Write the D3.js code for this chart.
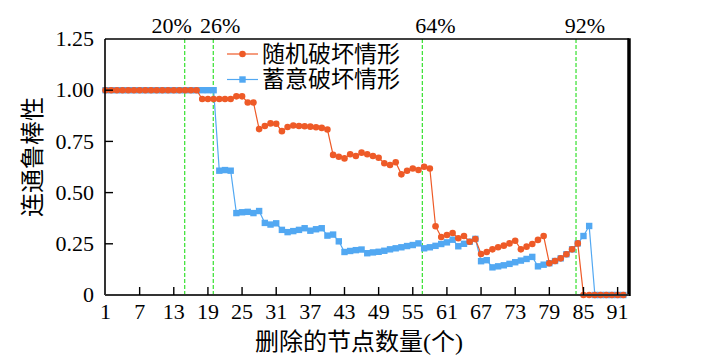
<!DOCTYPE html>
<html><head><meta charset="utf-8">
<script src="https://cdn.jsdelivr.net/npm/d3@7"></script>
<style>
html,body{margin:0;padding:0;background:#fff;}
svg{display:block;}
.serif{font-family:"Liberation Serif","Times New Roman",serif;}
.cjk{font-family:"Liberation Serif","Noto Sans CJK SC",serif;}
</style></head>
<body>
<svg id="chart" width="705" height="364"></svg>
<script>
// ---------- data ----------
const randomSeries = [
  1,1,1,1,1,1,1,1,1,1,1,1,1,1,1,1,1,
  0.957,0.957,0.957,0.957,0.957,0.957,
  0.97,0.97,0.94,0.94,
  0.81,0.825,0.838,0.836,0.80,0.82,0.828,0.825,0.824,0.822,0.819,0.816,0.808,
  0.684,0.675,0.667,0.687,0.679,0.695,0.687,0.679,0.67,0.643,0.635,0.648,0.589,0.607,0.618,0.61,0.626,0.618,
  0.336,0.283,0.293,0.303,0.277,0.288,0.26,0.273,
  0.2,0.21,0.223,0.233,0.241,0.252,0.265,0.223,0.236,0.249,0.269,0.288,
  0.155,0.166,0.179,0.199,0.223,0.252,
  0,0,0,0,0,0,0,0
];
const targetedSeries = [
  1,1,1,1,1,1,1,1,1,1,1,1,1,1,1,1,1,1,1,1,
  0.607,0.61,0.607,
  0.40,0.404,0.406,0.40,0.41,
  0.352,0.344,0.35,
  0.318,0.307,0.312,0.318,0.326,0.314,0.321,0.326,
  0.29,0.295,0.262,
  0.21,0.215,0.219,0.222,
  0.204,0.208,0.211,0.216,0.223,0.228,0.233,0.239,0.244,0.252,
  0.228,0.233,0.24,0.249,0.257,0.27,
  0.238,0.25,0.26,0.274,
  0.165,0.17,
  0.135,0.14,0.145,0.152,0.16,0.168,0.176,0.186,
  0.14,0.148,0.155,0.166,0.179,0.199,0.223,
  0.252,0.288,0.337,
  0,0,0,0,0,0
];
const seriesNames = ["随机破坏情形","蓄意破坏情形"];
const xTickValues = [1,7,13,19,25,31,37,43,49,55,61,67,73,79,85,91];
const yTickValues = [0,0.25,0.5,0.75,1.0,1.25];
const yTickLabels = ["0","0.25","0.50","0.75","1.00","1.25"];
const cutPositions = [14.92,19.94,56.68,83.69];
const cutLabels = ["20%","26%","64%","92%"];
const xTitle = "删除的节点数量(个)";
const yTitle = "连通鲁棒性";

// ---------- layout ----------
const pL = 105, pR = 629, pT = 39, pB = 295;
const orange = "#EE5A27", blue = "#52A8F2", green = "#35E02E";

const svg = d3.select("#chart");
const x = d3.scaleLinear().domain([1, 93]).range([pL + 0.5, pR]);
const y = d3.scaleLinear().domain([0, 1.25]).range([pB, pT]);

const idx = randomSeries.map((d, i) => i + 1);

// cut lines
svg.append("g").selectAll("line").data(cutPositions).join("line")
  .attr("x1", d => x(d)).attr("x2", d => x(d))
  .attr("y1", pT).attr("y2", pB)
  .attr("stroke", green).attr("stroke-width", 1.2)
  .attr("stroke-dasharray", "4,2");

const labelShift = [-13, 7, 13, 9];
svg.append("g").selectAll("text").data(cutLabels).join("text")
  .attr("class", "serif")
  .attr("x", (d, i) => x(cutPositions[i]) + labelShift[i])
  .attr("y", 32.5)
  .attr("text-anchor", "middle")
  .attr("font-size", 22)
  .attr("fill", "#000")
  .text(d => d);

// series
function drawSeries(vals, color, shape) {
  const pts = vals.map((v, i) => [idx[i], v]);
  const line = d3.line().x(d => x(d[0])).y(d => y(d[1]));
  const g = svg.append("g");
  g.append("path").datum(pts).attr("d", line)
    .attr("fill", "none").attr("stroke", color).attr("stroke-width", 1.2);
  if (shape === "circle") {
    g.selectAll("circle").data(pts).join("circle")
      .attr("cx", d => x(d[0])).attr("cy", d => y(d[1]))
      .attr("r", 3.3).attr("fill", color);
  } else {
    g.selectAll("rect").data(pts).join("rect")
      .attr("x", d => x(d[0]) - 3.2).attr("y", d => y(d[1]) - 3.2)
      .attr("width", 6.4).attr("height", 6.4).attr("fill", color);
  }
}
drawSeries(targetedSeries, blue, "square");
drawSeries(randomSeries, orange, "circle");

// frame
svg.append("line").attr("x1", pL).attr("x2", pR).attr("y1", pT).attr("y2", pT)
  .attr("stroke", "#000").attr("stroke-width", 1.6);
svg.append("line").attr("x1", pR).attr("x2", pR).attr("y1", pT - 0.8).attr("y2", pB + 1)
  .attr("stroke", "#000").attr("stroke-width", 3.5);
svg.append("line").attr("x1", pL).attr("x2", pL).attr("y1", pT).attr("y2", pB)
  .attr("stroke", "#000").attr("stroke-width", 1.6);
svg.append("line").attr("x1", pL).attr("x2", pR).attr("y1", pB).attr("y2", pB)
  .attr("stroke", "#333").attr("stroke-width", 2);

// x axis ticks & labels
const xg = svg.append("g");
xg.selectAll("line").data(xTickValues.filter(d => d !== 1)).join("line")
  .attr("x1", d => x(d)).attr("x2", d => x(d))
  .attr("y1", pB).attr("y2", pB - 8)
  .attr("stroke", "#000").attr("stroke-width", 1.4);
xg.selectAll("text").data(xTickValues).join("text")
  .attr("class", "serif")
  .attr("x", d => x(d)).attr("y", 319)
  .attr("text-anchor", "middle").attr("font-size", 22).attr("fill", "#000")
  .text(d => d);

// y axis ticks & labels
const yg = svg.append("g");
yg.selectAll("line").data(yTickValues.filter(d => d > 0 && d < 1.25)).join("line")
  .attr("x1", pL).attr("x2", pL + 8)
  .attr("y1", d => y(d)).attr("y2", d => y(d))
  .attr("stroke", "#000").attr("stroke-width", 1.4);
yg.selectAll("text").data(yTickValues).join("text")
  .attr("class", "serif")
  .attr("x", 94).attr("y", d => y(d)).attr("dy", "0.33em")
  .attr("text-anchor", "end").attr("font-size", 22).attr("fill", "#000")
  .text((d, i) => yTickLabels[i]);

// titles
svg.append("text").attr("class", "cjk")
  .attr("x", 359).attr("y", 342).attr("dominant-baseline", "central")
  .attr("text-anchor", "middle").attr("font-size", 24)
  .attr("fill", "#000").text(xTitle);
svg.append("text").attr("class", "cjk")
  .attr("transform", "translate(33,157) rotate(-90)")
  .attr("dominant-baseline", "central")
  .attr("text-anchor", "middle").attr("font-size", 24)
  .attr("fill", "#000").text(yTitle);

// legend
const legend = svg.append("g");
const legRows = [
  {name: seriesNames[0], color: orange, shape: "circle", cy: 54},
  {name: seriesNames[1], color: blue, shape: "square", cy: 79.5}
];
legRows.forEach(r => {
  legend.append("line").attr("x1", 227).attr("x2", 258).attr("y1", r.cy).attr("y2", r.cy)
    .attr("stroke", r.color).attr("stroke-width", 1.2);
  if (r.shape === "circle") {
    legend.append("circle").attr("cx", 242.5).attr("cy", r.cy).attr("r", 3.3).attr("fill", r.color);
  } else {
    legend.append("rect").attr("x", 242.5 - 3.2).attr("y", r.cy - 3.2)
      .attr("width", 6.4).attr("height", 6.4).attr("fill", r.color);
  }
  legend.append("text").attr("class", "cjk")
    .attr("x", 262).attr("y", r.cy).attr("dominant-baseline", "central")
    .attr("font-size", 23).attr("fill", "#000").text(r.name);
});
</script>
</body></html>
